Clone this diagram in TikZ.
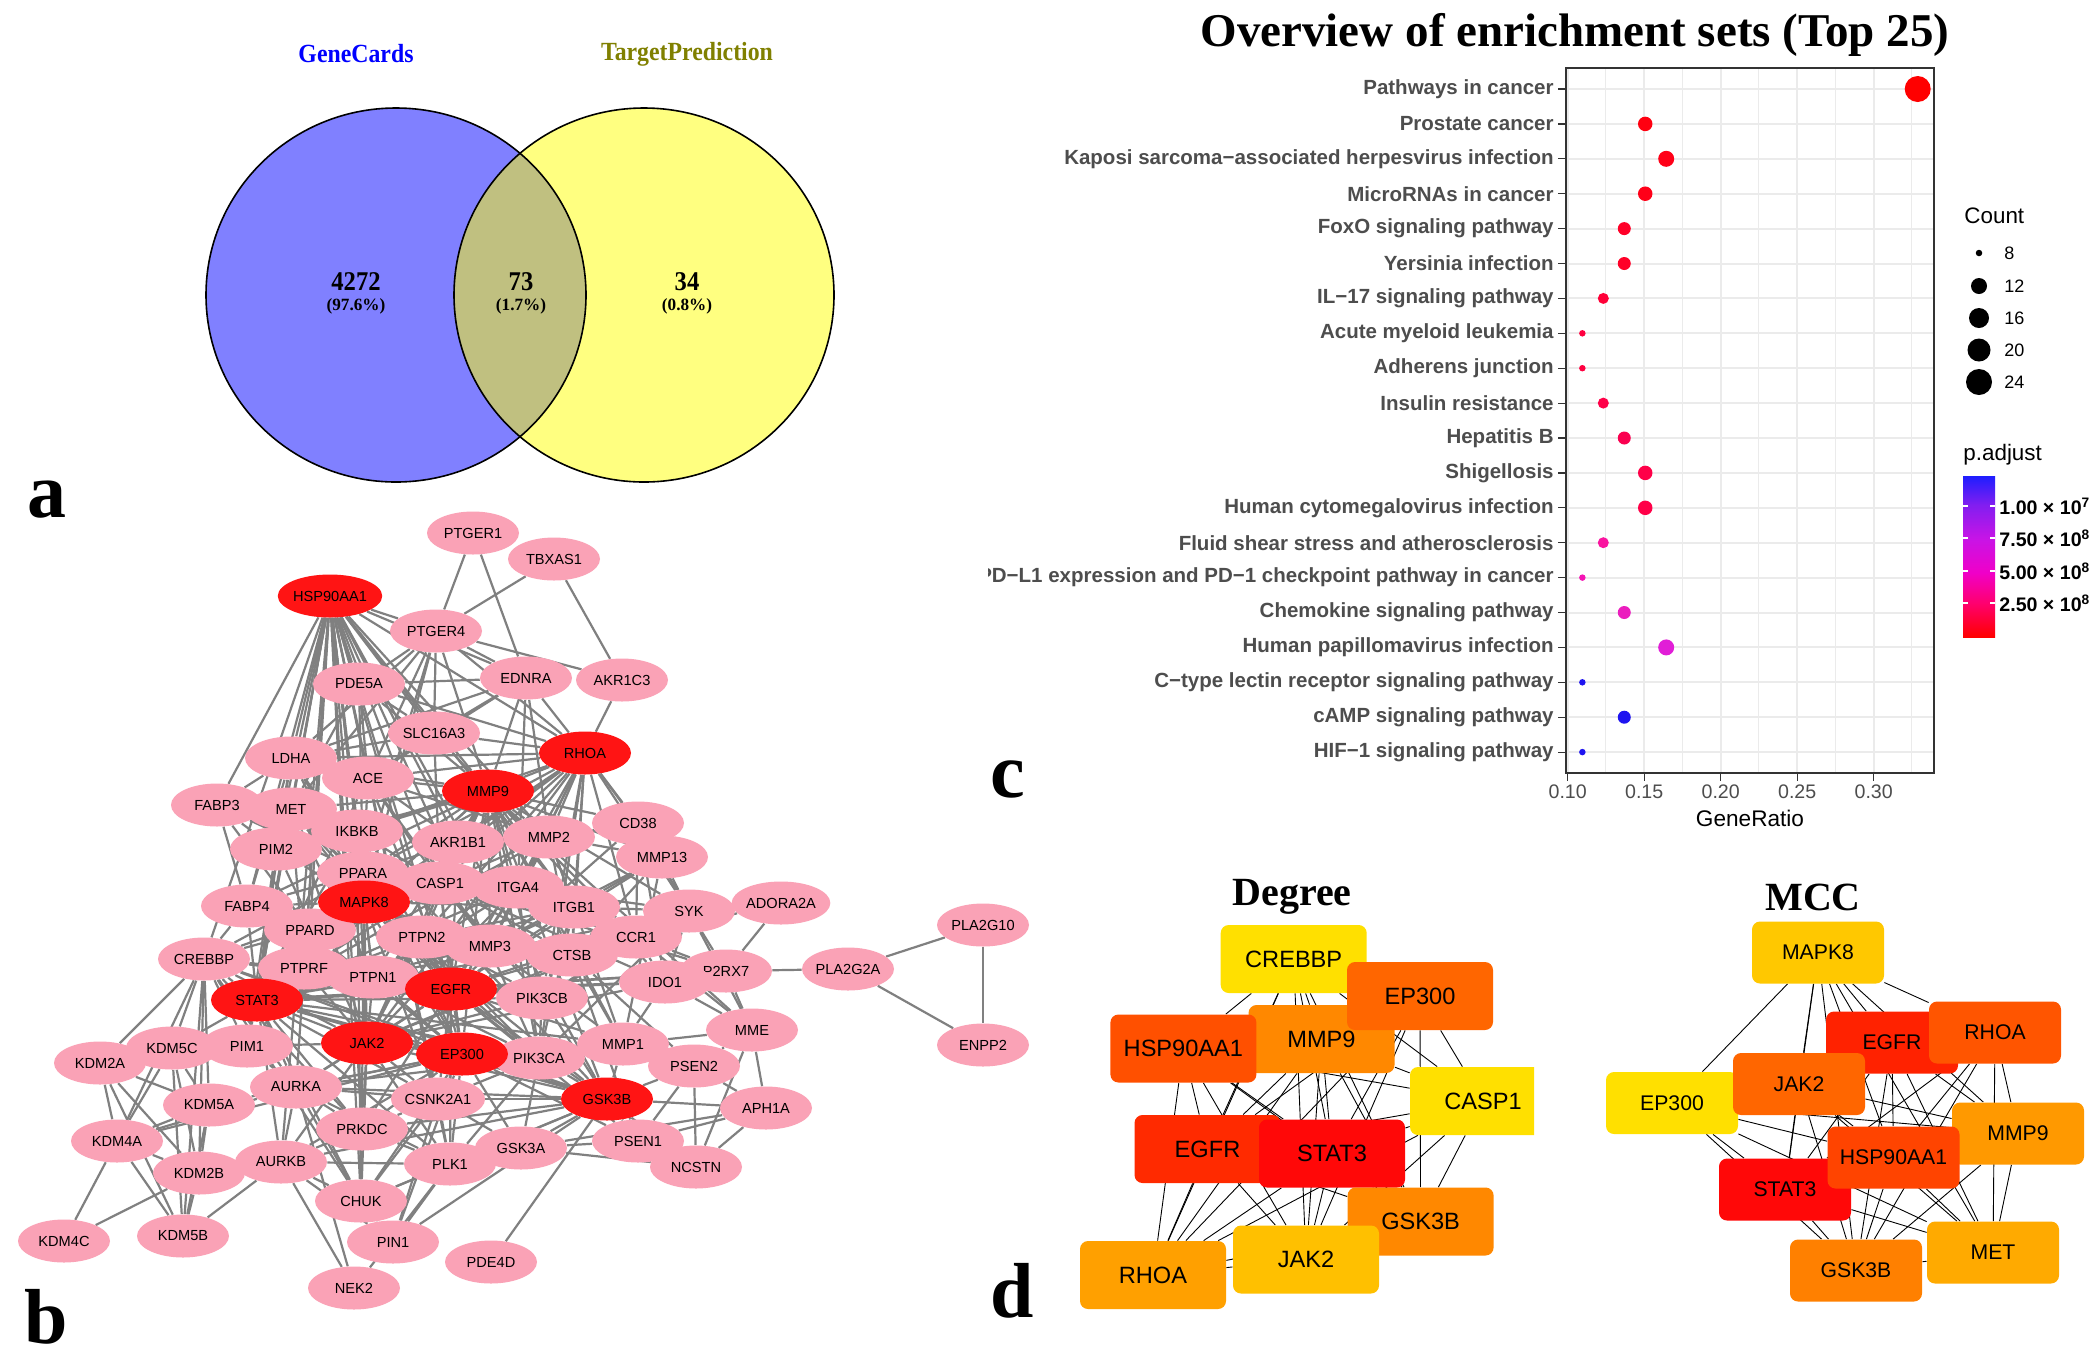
\documentclass[tikz,border=0pt]{standalone}
\usepackage{fontspec}
\setmainfont{Liberation Sans}
\newfontfamily\tnr{Liberation Serif}
\usetikzlibrary{shapes.geometric,backgrounds}
\newcommand{\fsz}[1]{\fontsize{#1}{#1}\selectfont}
\definecolor{vblue}{RGB}{128,128,255}
\definecolor{vyellow}{RGB}{255,255,128}
\definecolor{volive}{RGB}{192,192,128}
\definecolor{gcblue}{RGB}{0,0,255}
\definecolor{tpolive}{RGB}{128,128,0}
\definecolor{pinkc}{RGB}{250,162,182}
\definecolor{redc}{RGB}{255,20,20}
\definecolor{edgec}{RGB}{128,128,128}
\definecolor{grey30}{RGB}{77,77,77}
\definecolor{grey20}{RGB}{51,51,51}
\definecolor{gridc}{RGB}{235,235,235}
\definecolor{c0}{RGB}{255,0,0}
\definecolor{c1}{RGB}{255,0,16}
\definecolor{c2}{RGB}{255,0,24}
\definecolor{c3}{RGB}{255,0,24}
\definecolor{c4}{RGB}{255,0,40}
\definecolor{c5}{RGB}{255,0,40}
\definecolor{c6}{RGB}{255,0,56}
\definecolor{c7}{RGB}{255,0,64}
\definecolor{c8}{RGB}{255,0,64}
\definecolor{c9}{RGB}{255,0,72}
\definecolor{c10}{RGB}{250,0,80}
\definecolor{c11}{RGB}{255,0,72}
\definecolor{c12}{RGB}{255,0,72}
\definecolor{c13}{RGB}{250,20,160}
\definecolor{c14}{RGB}{245,20,180}
\definecolor{c15}{RGB}{235,30,190}
\definecolor{c16}{RGB}{225,30,215}
\definecolor{c17}{RGB}{30,20,240}
\definecolor{c18}{RGB}{30,20,240}
\definecolor{c19}{RGB}{30,20,240}
\definecolor{pk1}{RGB}{255,0,110}
\definecolor{pk2}{RGB}{240,0,200}
\definecolor{pk3}{RGB}{200,20,230}
\definecolor{pk4}{RGB}{130,30,240}
\definecolor{bl1}{RGB}{30,30,255}
\pgfdeclareverticalshading{padj}{100bp}{color(0bp)=(red); color(25bp)=(red); color(35.5bp)=(pk1); color(45bp)=(pk2); color(55.5bp)=(pk3); color(66bp)=(pk4); color(75bp)=(bl1); color(100bp)=(bl1)}
% box colours
\definecolor{yA}{RGB}{255,224,0}
\definecolor{oA}{RGB}{255,102,0}
\definecolor{oB}{RGB}{255,80,0}
\definecolor{oC}{RGB}{255,136,0}
\definecolor{rA}{RGB}{255,42,0}
\definecolor{rB}{RGB}{255,8,8}
\definecolor{gA}{RGB}{255,192,0}
\definecolor{gB}{RGB}{255,160,0}
\definecolor{mMAPK}{RGB}{255,200,0}
\definecolor{mRHOA}{RGB}{255,85,0}
\definecolor{mEGFR}{RGB}{255,34,0}
\definecolor{mJAK}{RGB}{255,102,0}
\definecolor{mMMP}{RGB}{255,153,0}
\definecolor{mHSP}{RGB}{255,68,0}
\definecolor{mMET}{RGB}{255,170,0}
\definecolor{mGSK}{RGB}{255,128,0}
\tikzset{
  pn/.style={ellipse, fill=pinkc, minimum width=46pt, minimum height=21.5pt, inner sep=0pt, font=\fsz{7.3}},
  rn/.style={pn, fill=redc},
  nedge/.style={draw=edgec, line width=1.1pt},
  dbox/.style={rectangle, rounded corners=4pt, minimum width=73pt, minimum height=34pt, inner sep=0pt, font=\fsz{11.8}},
  mbox/.style={dbox, minimum width=66pt, minimum height=31pt, font=\fsz{10.6}},
  kedge/.style={draw=black, line width=0.45pt},
  ylab/.style={anchor=east, font=\bfseries\fsz{10.25}, text=grey30, inner sep=0pt},
  xlab/.style={font=\fsz{9.8}, text=grey30, inner sep=0pt},
  panlab/.style={font=\tnr\bfseries\fsz{39}, anchor=base, inner sep=0pt},
  vnum/.style={font=\tnr\bfseries\fsz{12.3}, inner sep=0pt, yscale=1.1},
  vpct/.style={font=\tnr\bfseries\fsz{8.6}, inner sep=0pt},
  vtitle/.style={font=\tnr\bfseries\fsz{11.9}, inner sep=0pt, yscale=1.1},
  ttl/.style={font=\tnr\bfseries\fsz{20}, inner sep=0pt}
}
\begin{document}
\begin{tikzpicture}[x=0.5pt,y=-0.5pt]
\begin{pgfonlayer}{background}
\fill[white] (0,0) rectangle (2100,1362);
\end{pgfonlayer}
\useasboundingbox (0,0) rectangle (2100,1362);

% ---------------- panel a : Venn
\fill[vblue] (396,295) ellipse [x radius=190, y radius=187];
\fill[vyellow] (644,295) ellipse [x radius=190, y radius=187];
\begin{scope}
  \clip (396,295) ellipse [x radius=190, y radius=187];
  \fill[volive] (644,295) ellipse [x radius=190, y radius=187];
\end{scope}
\draw[line width=0.8pt] (396,295) ellipse [x radius=190, y radius=187];
\draw[line width=0.8pt] (644,295) ellipse [x radius=190, y radius=187];
\node[vtitle, text=gcblue] (gc) at (356,54) {GeneCards};
\node[vtitle, text=tpolive] (tp) at (687,54) {TargetPrediction};
\node[vnum] (va) at (356,282) {4272};
\node[vpct] (vap) at (356,306) {(97.6\%)};
\node[vnum] (vb) at (521,282) {73};
\node[vpct] (vbp) at (521,306) {(1.7\%)};
\node[vnum] (vc) at (687,282) {34};
\node[vpct] (vcp) at (687,306) {(0.8\%)};
\node[panlab] (la) at (47,517) {a};

% ---------------- panel b : network
\foreach \n/\x/\y in {PTGER1/473/533, TBXAS1/554/559, PTGER4/436/631, EDNRA/526/678, AKR1C3/622/680, PDE5A/359/684, SLC16A3/434/733, LDHA/291/758, ACE/368/778, FABP3/217/805, MET/291/809, PIM2/276/849, IKBKB/357/831, AKR1B1/458/842, MMP2/549/837, CD38/638/823, MMP13/662/857, PPARA/363/873, CASP1/440/883, ITGA4/518/887, ITGB1/574/907, SYK/689/911, ADORA2A/781/903, PLA2G10/983/925, FABP4/247/906, PPARD/310/930, PTPN2/422/937, MMP3/490/946, CCR1/636/937, CTSB/572/955, P2RX7/726/971, IDO1/665/982, PLA2G2A/848/969, CREBBP/204/959, PTPRF/304/968, PTPN1/373/977, PIK3CB/542/998, MME/752/1030, ENPP2/983/1045, MMP1/623/1044, PIK3CA/539/1058, PSEN2/694/1066, KDM5C/172/1048, PIM1/247/1046, KDM2A/100/1063, AURKA/296/1087, KDM5A/209/1105, CSNK2A1/438/1099, APH1A/766/1108, PRKDC/362/1129, KDM4A/117/1141, PSEN1/638/1141, GSK3A/521/1148, AURKB/281/1162, PLK1/450/1164, NCSTN/696/1167, KDM2B/199/1173, CHUK/361/1201, KDM5B/183/1236, KDM4C/64/1241, PIN1/393/1242, PDE4D/491/1262, NEK2/354/1288}
  \node[pn] (n\n) at (\x,\y) {\n};
\foreach \n/\x/\y in {HSP90AA1/330/596, RHOA/585/753, MMP9/488/791, MAPK8/364/902, EGFR/451/989, STAT3/257/1000, JAK2/367/1043, EP300/462/1054, GSK3B/607/1099}
  \node[rn] (n\n) at (\x,\y) {\n};

\begin{pgfonlayer}{background}
\foreach \a/\bs in {
HSP90AA1/{PDE5A,LDHA,ACE,MET,IKBKB,PIM2,PPARA,MAPK8,FABP4,PPARD,PTPRF,STAT3,JAK2,EGFR,EP300,PTPN1,CASP1,AKR1B1,MMP9,SLC16A3,RHOA,PTGER4,EDNRA,CHUK,PRKDC,AURKA,AURKB,PIM1,GSK3B,PIK3CA,PLK1,CSNK2A1,MMP2,ITGB1,CREBBP,FABP3},
RHOA/{MMP9,ACE,SLC16A3,PTGER4,AKR1C3,EDNRA,CD38,MMP2,AKR1B1,CASP1,ITGA4,ITGB1,PIK3CB,PTPN2,MMP3,CTSB,EGFR,JAK2,STAT3,MAPK8,PPARA,IKBKB,LDHA,PDE5A,CCR1,SYK,MMP13,PIK3CA},
PTGER1/{PTGER4,EDNRA},
TBXAS1/{PTGER4,AKR1C3},
PTGER4/{AKR1C3,EDNRA,PDE5A,SLC16A3,ACE,MMP9,LDHA,MET,PPARA,MAPK8},
EDNRA/{PDE5A,SLC16A3,MMP9,ACE,MMP2,ITGA4,LDHA},
PDE5A/{MMP9,ACE,SLC16A3,MET,PPARA},
SLC16A3/{MMP9,LDHA,ACE,CASP1},
LDHA/{MMP9,STAT3,EGFR,PPARA,ACE,MAPK8,FABP4,PIM2},
ACE/{MMP9,MMP2,EGFR,STAT3,PPARA,CASP1,MMP3,AKR1B1},
MMP9/{AKR1B1,MMP2,MMP13,CD38,MMP3,MMP1,CTSB,ITGA4,ITGB1,CASP1,STAT3,EGFR,JAK2,EP300,MAPK8,PPARA,IKBKB,MET,CCR1,SYK,IDO1,PTPN1,PIK3CA,PIK3CB,GSK3B,MME,FABP4,PIM2,PTPN2},
FABP3/{FABP4,PPARA,PPARD,PIM2,LDHA},
MET/{EGFR,STAT3,PTPN1,PTPN2,PTPRF,PIK3CA,JAK2,MAPK8},
IKBKB/{CHUK,MAPK8,STAT3,EGFR,JAK2,EP300,CASP1,PPARA,GSK3B},
AKR1B1/{MMP2,CASP1,EGFR,STAT3,PPARA},
MMP2/{MMP13,MMP3,MMP1,CTSB,ITGA4,ITGB1,CASP1,EGFR,STAT3,CD38},
CD38/{MMP13,CCR1,SYK,EGFR,IDO1},
MMP13/{MMP3,MMP1,CTSB,ITGB1,EGFR,SYK},
PIM2/{STAT3,JAK2,PIM1,MAPK8},
PPARA/{FABP4,PPARD,STAT3,EP300,CREBBP,MAPK8,EGFR},
CASP1/{STAT3,EGFR,JAK2,EP300,MAPK8,ITGA4,ITGB1,CTSB,CCR1,IDO1,P2RX7,PIK3CB,MMP3,PTPN2},
ITGA4/{EGFR,ITGB1,SYK,PIK3CA,PTPN1,STAT3,MAPK8,JAK2},
ITGB1/{EGFR,SYK,PIK3CA,PIK3CB,PTPN2,CCR1,STAT3,MAPK8,CTSB,MMP3},
SYK/{CCR1,P2RX7,EGFR,JAK2,STAT3,PIK3CB,IDO1,MME},
ADORA2A/{P2RX7,CCR1},
PLA2G10/{PLA2G2A,ENPP2},
PLA2G2A/{P2RX7,ENPP2},
FABP4/{PPARD,MAPK8,STAT3,CREBBP,PTPRF},
PPARD/{STAT3,EP300,CREBBP,MAPK8,PTPRF},
PTPN2/{EGFR,STAT3,JAK2,MAPK8,PTPN1},
MMP3/{MMP1,CTSB,EGFR,STAT3,MAPK8},
CCR1/{IDO1,P2RX7,JAK2,STAT3,PIK3CB,MME},
CTSB/{PSEN1,EGFR,MMP1,PSEN2},
P2RX7/{IDO1,MME,STAT3,EGFR},
CREBBP/{STAT3,EP300,JAK2,MAPK8,KDM2A,KDM5C,KDM5A,KDM4A,KDM2B,KDM5B,PIM1,GSK3B,CHUK,PRKDC,AURKA,EGFR,PTPRF},
PTPRF/{EGFR,STAT3,JAK2,PTPN1},
PTPN1/{EGFR,STAT3,JAK2,MAPK8,PIK3CA,EP300},
EGFR/{STAT3,JAK2,EP300,MAPK8,PIK3CA,PIK3CB,GSK3B,CSNK2A1,MMP1,PRKDC,PLK1,AURKA,IDO1,PSEN1},
IDO1/{STAT3,JAK2,MME,MMP1},
PIK3CB/{PIK3CA,JAK2,STAT3,GSK3B,MAPK8},
MME/{MMP1,APH1A,PSEN2,NCSTN},
PIK3CA/{JAK2,STAT3,EP300,GSK3B,MAPK8,AURKA,PLK1,CSNK2A1,GSK3A,SYK},
MMP1/{PSEN2,GSK3B,STAT3,EP300},
PSEN2/{PSEN1,GSK3B,APH1A,NCSTN},
STAT3/{JAK2,EP300,MAPK8,PIM1,AURKA,AURKB,PRKDC,CSNK2A1,GSK3B,PLK1,CHUK,KDM5C},
JAK2/{EP300,MAPK8,PIM1,CSNK2A1,GSK3B,PRKDC,CHUK,PLK1,AURKA,AURKB},
EP300/{MAPK8,PRKDC,CSNK2A1,GSK3B,GSK3A,CHUK,PLK1,AURKA,AURKB,PIN1,KDM5A,PSEN1,KDM4A},
KDM5C/{KDM2A,KDM5A,KDM4A,KDM2B,KDM5B,PIM1},
PIM1/{AURKA,MAPK8},
KDM2A/{KDM4A,KDM5A,KDM2B,KDM5B},
AURKA/{PLK1,AURKB,PRKDC,CHUK,NEK2,CSNK2A1,GSK3B,KDM4A},
KDM5A/{KDM4A,KDM2B,KDM5B},
CSNK2A1/{GSK3B,GSK3A,PRKDC,PLK1,PIN1,CHUK,MAPK8},
GSK3B/{GSK3A,PSEN1,NCSTN,APH1A,MAPK8,PLK1,PIN1,CHUK,PDE4D,PRKDC,AURKB},
APH1A/{PSEN1,NCSTN,GSK3A},
PRKDC/{CHUK,PLK1,AURKB},
KDM4A/{KDM2B,KDM5B,KDM4C},
PSEN1/{NCSTN,GSK3A},
GSK3A/{NCSTN,PLK1},
AURKB/{PLK1,CHUK,NEK2,KDM5B,PIN1},
PLK1/{PIN1,NEK2,CHUK},
KDM2B/{KDM5B,KDM4C},
CHUK/{PIN1,MAPK8}}
  \foreach \b in \bs \draw[nedge] (n\a) -- (n\b);
\end{pgfonlayer}
\node[panlab] (lb) at (46,1343) {b};

% ---------------- panel c : dot plot
\node[ttl, font=\tnr\bfseries\fsz{23.5}] (title) at (1575,35) {Overview of enrichment sets (Top 25)};
% grid
\foreach \k in {0,...,4} \draw[gridc, line width=1pt] ({1567.7+76.5*\k},68) -- ({1567.7+76.5*\k},773);
\foreach \k in {0,...,4} \draw[gridc, line width=0.5pt] ({1567.7+38.25+76.5*\k},68) -- ({1567.7+38.25+76.5*\k},773);
\foreach \i in {0,...,19} \draw[gridc, line width=1pt] (1566,{89+34.9*\i}) -- (1934,{89+34.9*\i});
\draw[grey20, line width=0.6pt] (1566,68) rectangle (1934,773);
\begin{scope}
\clip (988,60) rectangle (1570,780);
\foreach \i/\lab in {0/Pathways in cancer, 1/Prostate cancer, 2/Kaposi sarcoma−associated herpesvirus infection, 3/MicroRNAs in cancer, 4/FoxO signaling pathway, 5/Yersinia infection, 6/IL−17 signaling pathway, 7/Acute myeloid leukemia, 8/Adherens junction, 9/Insulin resistance, 10/Hepatitis B, 11/Shigellosis, 12/Human cytomegalovirus infection, 13/Fluid shear stress and atherosclerosis, 14/PD−L1 expression and PD−1 checkpoint pathway in cancer, 15/Chemokine signaling pathway, 16/Human papillomavirus infection, 17/C−type lectin receptor signaling pathway, 18/cAMP signaling pathway, 19/HIF−1 signaling pathway}{
  \pgfmathsetmacro\yy{89+34.9*\i}
  \node[ylab] (yl\i) at (1554,\yy) {\lab};
  \draw[grey20, line width=0.6pt] (1558,\yy) -- (1566,\yy);
}
\end{scope}
\foreach \i/\cnt/\dm in {0/24/13, 1/11/7.25, 2/12/8, 3/11/7.25, 4/10/6.5, 5/10/6.5, 6/9/5.5, 7/8/3.25, 8/8/3.25, 9/9/5.5, 10/10/6.5, 11/11/7.25, 12/11/7.25, 13/9/5.5, 14/8/3.25, 15/10/6.5, 16/12/8, 17/8/3.25, 18/10/6.5, 19/8/3.25}{
  \pgfmathsetmacro\yy{89+34.9*\i}
  \pgfmathsetmacro\xx{1567.7+(\cnt/73-0.1)*1530}
  \node[circle, fill=c\i, minimum size=\dm pt, inner sep=0pt] (dot\i) at (\xx,\yy) {};
}
% x axis
\foreach \k/\t in {0/0.10,1/0.15,2/0.20,3/0.25,4/0.30}{
  \draw[grey20, line width=0.6pt] ({1567.7+76.5*\k},773) -- ({1567.7+76.5*\k},781);
  \node[xlab] (xt\k) at ({1567.7+76.5*\k},792) {\t};
}
\node[font=\fsz{11.3}, inner sep=0pt] (xtitle) at (1750,818) {GeneRatio};
% Count legend
\node[font=\fsz{11.2}, anchor=west, inner sep=0pt] (cnt) at (1964,216) {Count};
\foreach \v/\yy/\dm in {8/253/3.25, 12/286/8, 16/318/10, 20/350/11.5, 24/382/13}{
  \node[circle, fill=black, minimum size=\dm pt, inner sep=0pt] (ld\v) at (1979,\yy) {};
  \node[font=\fsz{9}, anchor=west, inner sep=0pt] (lt\v) at (2004,\yy) {\v};
}
% p.adjust legend
\node[font=\fsz{11.2}, anchor=west, inner sep=0pt] (padj) at (1963,455) {p.adjust};
\path[shading=padj] (1963,476) rectangle (1995,637);
\foreach \yy/\t/\e in {506/1.00/7, 538/7.50/8, 571/5.00/8, 603/2.50/8}{
  \draw[white, line width=0.6pt] (1963,\yy) -- (1968,\yy) (1990,\yy) -- (1995,\yy);
  \node[font=\bfseries\fsz{9.8}, anchor=west, inner sep=0pt] at (1999,\yy) {\t{} × 10\textsuperscript{\e}};
}
\node[panlab] (lc) at (1008,797) {c};

% ---------------- panel d
\node[ttl] (deg) at (1292,897) {Degree};
\node[ttl] (mcc) at (1813,897) {MCC};
\node[dbox, fill=yA] (dCREBBP) at (1293.7,959) {CREBBP};
\node[dbox, fill=oC] (dMMP9) at (1321.5,1039) {MMP9};
\node[dbox, fill=oB] (dHSP90AA1) at (1183.4,1048.5) {HSP90AA1};
\node[dbox, fill=oA] (dEP300) at (1420,996) {EP300};
\begin{scope}
\clip (1400,1060) rectangle (1534,1140);
\node[dbox, fill=yA] (dCASP1) at (1483,1101) {CASP1};
\end{scope}
\node[dbox, fill=rA] (dEGFR) at (1207.5,1149) {EGFR};
\node[dbox, fill=rB] (dSTAT3) at (1332,1153.5) {STAT3};
\node[dbox, fill=oC] (dGSK3B) at (1420.6,1221.5) {GSK3B};
\node[dbox, fill=gA] (dJAK2) at (1306,1259.5) {JAK2};
\node[dbox, fill=gB] (dRHOA) at (1153,1275) {RHOA};

\node[mbox, fill=mMAPK] (mMAPK8) at (1818,952.5) {MAPK8};
\node[mbox, fill=mEGFR] (mEGFR) at (1892,1042.5) {EGFR};
\node[mbox, fill=mRHOA] (mRHOA) at (1995,1032.5) {RHOA};
\node[mbox, fill=yA] (mEP300) at (1672,1103) {EP300};
\node[mbox, fill=mJAK] (mJAK2) at (1799,1084) {JAK2};
\node[mbox, fill=mMMP] (mMMP9) at (2018,1133.5) {MMP9};
\node[mbox, fill=rB] (mSTAT3) at (1785,1189.5) {STAT3};
\node[mbox, fill=mHSP] (mHSP90AA1) at (1893.5,1157.5) {HSP90AA1};
\node[mbox, fill=mMET] (mMET) at (1993,1252.5) {MET};
\node[mbox, fill=mGSK] (mGSK3B) at (1856,1270.5) {GSK3B};

\begin{pgfonlayer}{background}
\foreach \a [count=\i] in {CREBBP,EP300,HSP90AA1,MMP9,CASP1,EGFR,STAT3,GSK3B,JAK2,RHOA}{
  \foreach \b [count=\j] in {CREBBP,EP300,HSP90AA1,MMP9,CASP1,EGFR,STAT3,GSK3B,JAK2,RHOA}{
    \ifnum\j>\i \draw[kedge] (d\a) -- (d\b); \fi
  }
}
\foreach \a [count=\i] in {MAPK8,EGFR,RHOA,EP300,JAK2,MMP9,STAT3,HSP90AA1,MET,GSK3B}{
  \foreach \b [count=\j] in {MAPK8,EGFR,RHOA,EP300,JAK2,MMP9,STAT3,HSP90AA1,MET,GSK3B}{
    \ifnum\j>\i \draw[kedge] (m\a) -- (m\b); \fi
  }
}
\end{pgfonlayer}
\node[panlab] (ld) at (1012,1317) {d};
\end{tikzpicture}
\end{document}
